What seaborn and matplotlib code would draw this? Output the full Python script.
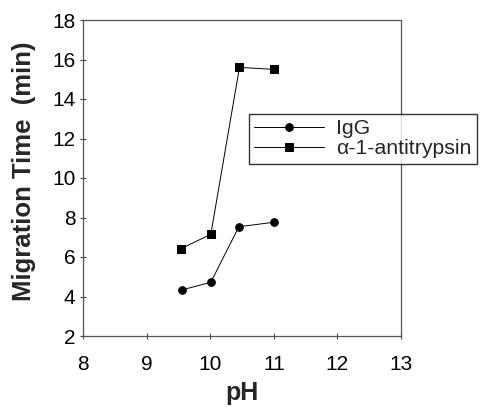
import matplotlib
matplotlib.use("Agg")
import matplotlib.pyplot as plt
import seaborn as sns
import pandas as pd

ph_igg = [9.55, 10.01, 10.45, 11.0]
time_igg = [4.33, 4.72, 7.53, 7.76]
ph_aat = [9.54, 10.01, 10.46, 11.0]
time_aat = [6.42, 7.15, 15.6, 15.5]
series_names = ["IgG", "α-1-antitrypsin"]
x_ticks = [8, 9, 10, 11, 12, 13]
y_ticks = [2, 4, 6, 8, 10, 12, 14, 16, 18]

df = pd.DataFrame({
    "pH": ph_igg + ph_aat,
    "time": time_igg + time_aat,
    "series": [series_names[0]] * len(ph_igg) + [series_names[1]] * len(ph_aat),
})

sns.set_style("white")
plt.rcParams['font.family'] = ['Liberation Sans', 'DejaVu Sans']

fig = plt.figure(figsize=(4.81, 4.07), dpi=100)
ax = fig.add_axes([83/481, 1 - 336/407, 318/481, 316/407])

sns.lineplot(data=df, x="pH", y="time", hue="series", style="series",
             markers={"IgG": "o", "α-1-antitrypsin": "s"}, dashes=False,
             palette={"IgG": "black", "α-1-antitrypsin": "black"},
             markersize=5.5, linewidth=0.7, markeredgecolor="black",
             sort=False, ax=ax, legend=True)

ax.set_xlim(8, 13)
ax.set_ylim(2, 18)
ax.set_xticks(x_ticks)
ax.set_yticks(y_ticks)
ax.tick_params(axis='both', labelsize=15, direction='inout', length=5, width=0.8,
               colors='#444444', labelcolor='black', bottom=True, left=True)
ax.tick_params(axis='x', pad=11)
ax.tick_params(axis='y', pad=3)
for s in ax.spines.values():
    s.set_color('#555555')
    s.set_linewidth(0.9)

ax.set_xlabel("pH", fontsize=18, fontweight='bold', labelpad=5)
ax.set_ylabel("Migration Time  (min)", fontsize=18.5, fontweight='bold')
ax.yaxis.set_label_coords(-0.148, 0.52)

h, l = ax.get_legend_handles_labels()
ax.get_legend().remove()
leg = fig.legend(h, l, loc='upper left', bbox_to_anchor=(249/481, 1 - 114/407),
                 fontsize=15.3, frameon=True, fancybox=False, edgecolor='black',
                 handlelength=3.3, handletextpad=0.55, borderpad=0.25,
                 labelspacing=0.05, borderaxespad=0)
leg.get_frame().set_linewidth(1.0)

fig.savefig("out.png", dpi=100)
